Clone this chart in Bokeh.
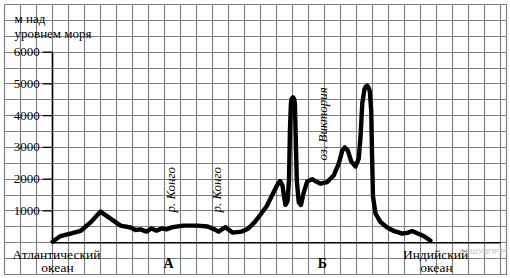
import numpy as np
from bokeh.plotting import figure
from bokeh.models import Range1d, FixedTicker
from bokeh.core.properties import value
from bokeh.embed import file_html
from bokeh.resources import INLINE

# ---- data ----
# distance along profile (grid cells from the vertical axis)
dist = [0.0, 0.5, 1.125, 1.75, 2.375, 3.0, 3.625, 4.25, 4.875, 5.19, 5.5, 5.875, 6.19, 6.5,
        6.81, 7.125, 7.5, 8.19, 9.06, 9.69, 10.125, 10.375, 10.81, 11.25, 11.81, 12.19,
        12.625, 13.0, 13.375, 13.75, 14.06, 14.22, 14.375, 14.47, 14.56, 14.69, 14.78,
        14.84, 14.9, 14.95, 15.03, 15.1, 15.15, 15.19, 15.27, 15.39, 15.53, 15.7, 15.92, 16.23, 16.54,
        16.75, 17.17, 17.58, 17.89, 18.11, 18.27, 18.46, 18.67, 18.94, 19.14, 19.25,
        19.36, 19.5, 19.58, 19.67, 19.76, 19.83, 19.92, 19.97, 20.03, 20.19, 20.5, 20.92, 21.33, 21.86,
        22.17, 22.48, 22.79, 23.2, 23.625]
# height above sea level, m
height = [30, 210, 290, 370, 640, 980, 760, 540, 480, 400, 420, 350, 450, 380,
          450, 420, 490, 540, 540, 510, 420, 350, 490, 320, 350, 430,
          640, 890, 1140, 1520, 1830, 1940, 1800, 1460, 1190, 1300, 1960,
          3530, 4380, 4530, 4580, 4530, 4380, 3530, 1960, 1270, 1190, 1580, 1930, 2000, 1910,
          1860, 1910, 2120, 2490, 2900, 3000, 2900, 2560, 2400, 2650, 3320,
          4380, 4840, 4920, 4940, 4880, 4780, 4160, 2810, 1460, 920, 650, 480, 370, 290,
          310, 370, 300, 210, 70]

y_ticks = [1000, 2000, 3000, 4000, 5000, 6000]
y_tick_labels = ["1000", "2000", "3000", "4000", "5000", "6000"]
y_title = ["м над", "уровнем моря"]

bottom_names = ["Атлантический", "океан", "Индийский", "океан"]
bottom_x = [0.25, 0.3125, 23.94, 24.0]
bottom_y = [-370, -780, -370, -780]

point_names = ["А", "Б"]
point_x = [7.25, 16.875]

river_names = ["р. Конго", "р. Конго", "оз. Виктория"]
river_x = [7.375, 10.25, 16.875]
river_y = [950, 950, 2590]

axis_x_end = 28.0

SERIF = value("Liberation Serif")

p = figure(width=510, height=278, output_backend="svg", toolbar_location=None,
           x_range=Range1d(-3, 28.375), y_range=Range1d(-1000, 7500),
           x_axis_location=None, y_axis_location=None,
           min_border_left=4, min_border_right=4, min_border_top=4, min_border_bottom=4,
           background_fill_color="white", border_fill_color="white")
p.outline_line_color = "#808080"
p.outline_line_width = 1.2

p.xgrid.ticker = FixedTicker(ticks=list(range(-3, 29)))
p.ygrid.ticker = FixedTicker(ticks=list(range(-1000, 7501, 500)))
for g in (p.xgrid, p.ygrid):
    g.grid_line_color = "#808080"
    g.grid_line_width = 1.2
    g.grid_line_alpha = 1.0

# axes drawn inside the frame
p.segment(x0=[0], y0=[0], x1=[0], y1=[y_ticks[-1]], line_color="black", line_width=1.6)
p.segment(x0=[0], y0=[0], x1=[axis_x_end], y1=[0], line_color="black", line_width=1.6)
p.segment(x0=[-0.625] * len(y_ticks), x1=[0] * len(y_ticks), y0=y_ticks, y1=y_ticks,
          line_color="black", line_width=1.2)
p.text(x=[-0.8] * len(y_ticks), y=y_ticks, text=y_tick_labels, text_font=SERIF,
       text_font_size="13px", text_align="right", text_baseline="middle", text_color="black")

p.text(x=[-2.375, -2.375], y=[7050, 6600], text=y_title, text_font=SERIF,
       text_font_size="13px", text_align="left", text_baseline="alphabetic", text_color="black")

# profile
p.line(dist, height, line_color="black", line_width=4.4, line_join="round", line_cap="round")

p.text(x=bottom_x, y=bottom_y, text=bottom_names, text_font=SERIF, text_font_size="13.5px",
       text_align="center", text_baseline="alphabetic", text_color="black")
p.text(x=point_x, y=[-650, -650], text=point_names, text_font=SERIF, text_font_size="14px",
       text_font_style="bold", text_align="center", text_baseline="alphabetic", text_color="black")
p.text(x=river_x, y=river_y, text=river_names, text_font=SERIF, text_font_size="13px",
       text_font_style="italic", angle=np.pi / 2, text_align="left", text_baseline="middle",
       text_color="black")

p.text(x=[27.06], y=[-291], text=["РЕШУВПР.РФ"], text_font=value("Liberation Sans"),
       text_font_size="8px", text_align="center", text_baseline="middle", text_color="#c0c0c0")

open("out.html", "w").write(file_html(p, INLINE))
